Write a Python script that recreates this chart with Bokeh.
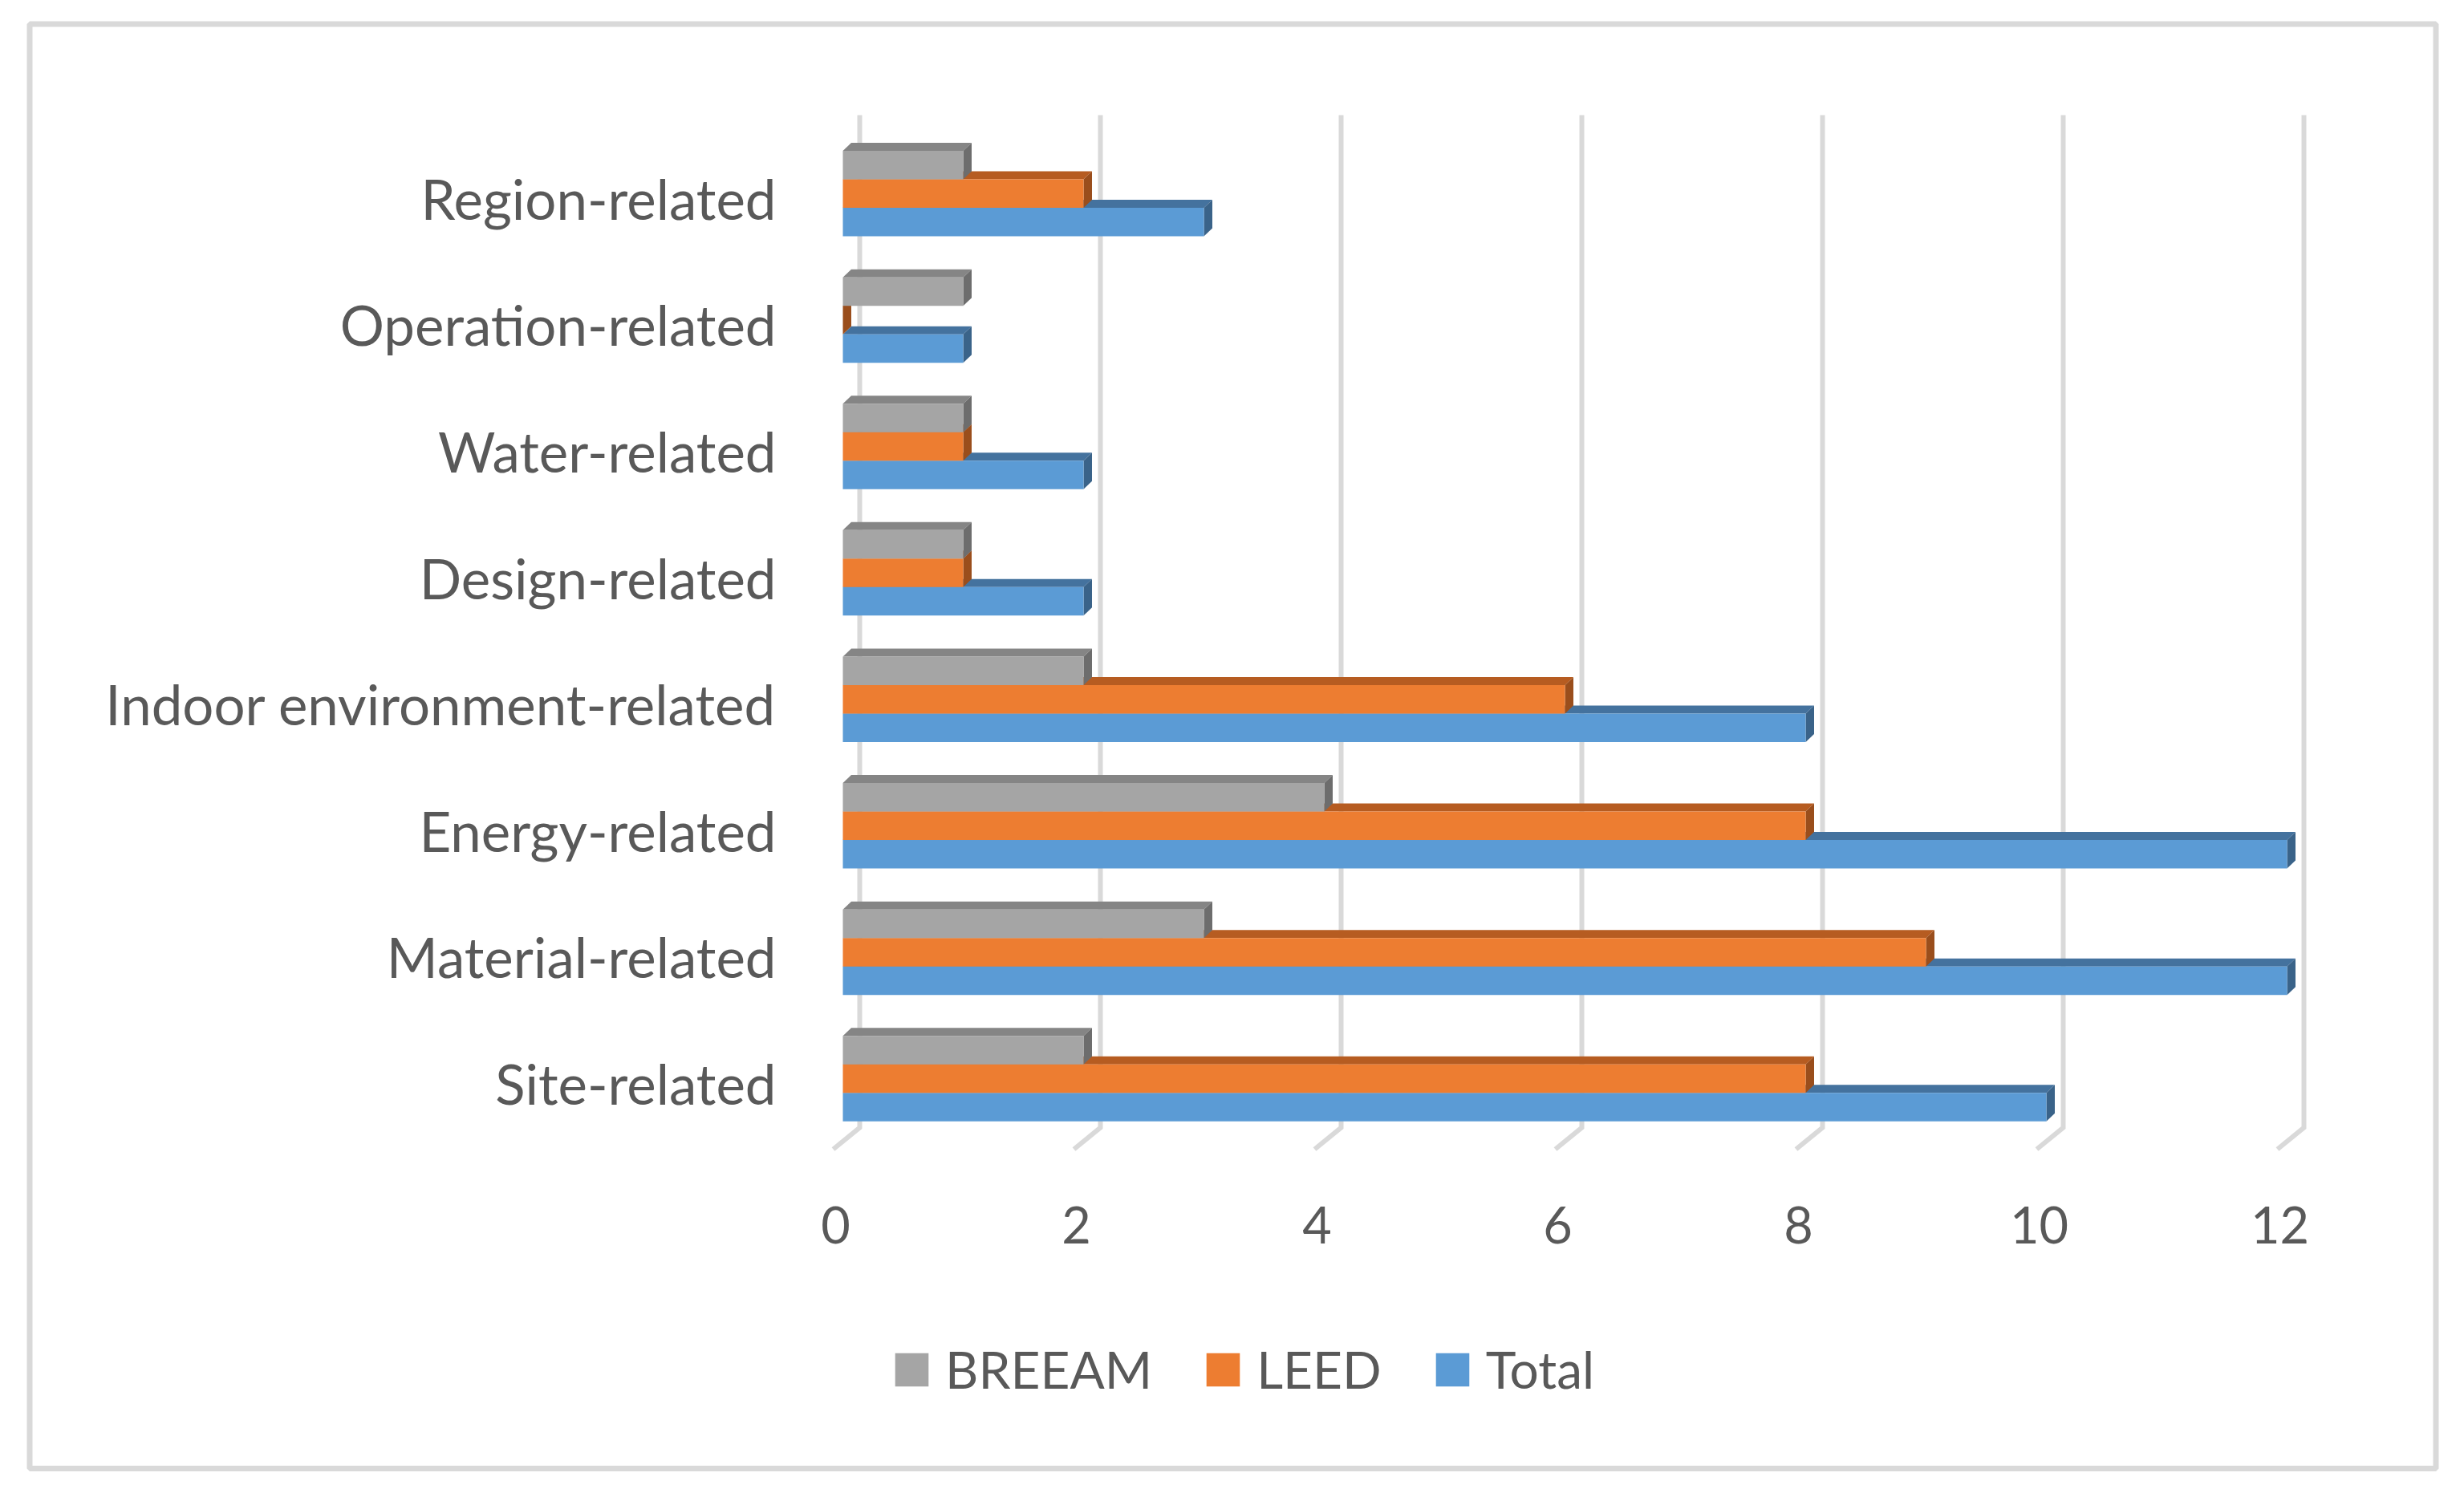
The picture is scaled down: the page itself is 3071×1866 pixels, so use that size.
from bokeh.plotting import figure
from bokeh.models import Range1d, LinearAxis, FixedTicker, Legend, LegendItem
from bokeh.embed import file_html
from bokeh.resources import INLINE

# ---------------- data ----------------
categories = ["Site-related", "Material-related", "Energy-related",
              "Indoor environment-related", "Design-related", "Water-related",
              "Operation-related", "Region-related"]
breeam = [2, 3, 4, 2, 1, 1, 1, 1]
leed = [8, 9, 8, 6, 1, 1, 0, 2]
total = [10, 12, 12, 8, 2, 2, 1, 3]
series_names = ["BREEAM", "LEED", "Total"]
x_ticks = [0, 2, 4, 6, 8, 10, 12]

# ---------------- style ----------------
FRONT = {"BREEAM": "#A5A5A5", "LEED": "#ED7D31", "Total": "#5B9BD5"}
TOP = {"BREEAM": "#858585", "LEED": "#B65C21", "Total": "#44729E"}
SIDE = {"BREEAM": "#6D6D6D", "LEED": "#9A4E1C", "Total": "#3A6389"}
TEXT = "#595959"
FONT = "Lato"

W, H = 3050, 1850          # figure size in px (frame covers all of it)
X0PX, PX_X = 1050.0, 150.0  # px of value 0, px per value unit
Y0PX, PX_Y = 1344.0, 157.6  # px of first category centre, px per category
BAR_H = 35.5 / PX_Y
DX = 10.5 / PX_X
DY = 10.0 / PX_Y


def vx(px):
    return (px - X0PX) / PX_X


def vy(py):
    return (Y0PX - py) / PX_Y


x0, x1 = vx(0), vx(W)
y0, y1 = vy(H), vy(0)

p = figure(width=W, height=H, output_backend="svg", toolbar_location=None,
           x_range=Range1d(x0, x1), y_range=Range1d(y0, y1),
           x_axis_location=None, y_axis_location=None,
           min_border=0)
p.outline_line_color = None
p.background_fill_color = "white"
p.border_fill_color = "white"
p.xgrid.visible = False
p.ygrid.visible = False

# ---------------- chart border ----------------
p.quad(left=[vx(36.5)], right=[vx(3035.5)], top=[vy(29.5)], bottom=[vy(1830)],
       fill_color=None, line_color="#D9D9D9", line_width=7)

# ---------------- back-wall grid lines + floor ----------------
gx, gy = [], []
for k in x_ticks:
    g = k + 21 / PX_X
    gx.append([g, g, k - 12 / PX_X])
    gy.append([vy(143), vy(1405), vy(1432)])
p.multi_line(gx, gy, line_color="#D9D9D9", line_width=6, line_join="miter")

# ---------------- 3D bars ----------------
series = {"BREEAM": breeam, "LEED": leed, "Total": total}
offsets = {"BREEAM": BAR_H, "LEED": 0.0, "Total": -BAR_H}
front_renderers = {}
for name in ["Total", "LEED", "BREEAM"]:
    vals = series[name]
    off = offsets[name]
    bots = [i + off - BAR_H / 2 for i in range(len(categories))]
    tops = [i + off + BAR_H / 2 for i in range(len(categories))]
    txs = [[0, v, v + DX, DX] for v in vals]
    tys = [[t, t, t + DY, t + DY] for t in tops]
    p.patches(txs, tys, fill_color=TOP[name], line_color=None)
    sxs = [[v, v + DX, v + DX, v] for v in vals]
    sys_ = [[b, b + DY, t + DY, t] for b, t in zip(bots, tops)]
    p.patches(sxs, sys_, fill_color=SIDE[name], line_color=None)
    r = p.quad(left=[0] * len(vals), right=vals, bottom=bots, top=tops,
               fill_color=FRONT[name], line_color=None)
    front_renderers[name] = r

# ---------------- axes ----------------
p.extra_y_ranges = {"cat": Range1d(y0 + 6 / PX_Y, y1 + 6 / PX_Y)}
p.extra_x_ranges = {"ax": Range1d(x0 + 9 / PX_X, x1 + 9 / PX_X)}

yaxis = LinearAxis(y_range_name="cat", fixed_location=vx(1000),
                   ticker=FixedTicker(ticks=list(range(len(categories)))),
                   major_label_overrides={i: c for i, c in enumerate(categories)})
xaxis = LinearAxis(x_range_name="ax", fixed_location=vy(1445),
                   ticker=FixedTicker(ticks=x_ticks))
for ax, size, standoff in ((yaxis, "69px", 33), (xaxis, "63px", 58)):
    ax.axis_line_color = None
    ax.major_tick_line_color = None
    ax.minor_tick_line_color = None
    ax.major_tick_in = 0
    ax.major_tick_out = 0
    ax.major_label_standoff = standoff
    ax.major_label_text_font = FONT
    ax.major_label_text_font_size = size
    ax.major_label_text_color = TEXT
p.add_layout(yaxis, "left")
p.add_layout(xaxis, "below")

# ---------------- legend ----------------
legend = Legend(items=[LegendItem(label=n, renderers=[front_renderers[n]]) for n in series_names],
                orientation="horizontal", location=(1110, 105),
                glyph_width=52, glyph_height=52, label_standoff=16, spacing=62,
                padding=0, margin=0, border_line_color=None, background_fill_alpha=0,
                label_text_font=FONT, label_text_font_size="64px",
                label_text_color=TEXT, label_height=52)
p.add_layout(legend, "center")

open("out.html", "w").write(file_html(p, INLINE))
